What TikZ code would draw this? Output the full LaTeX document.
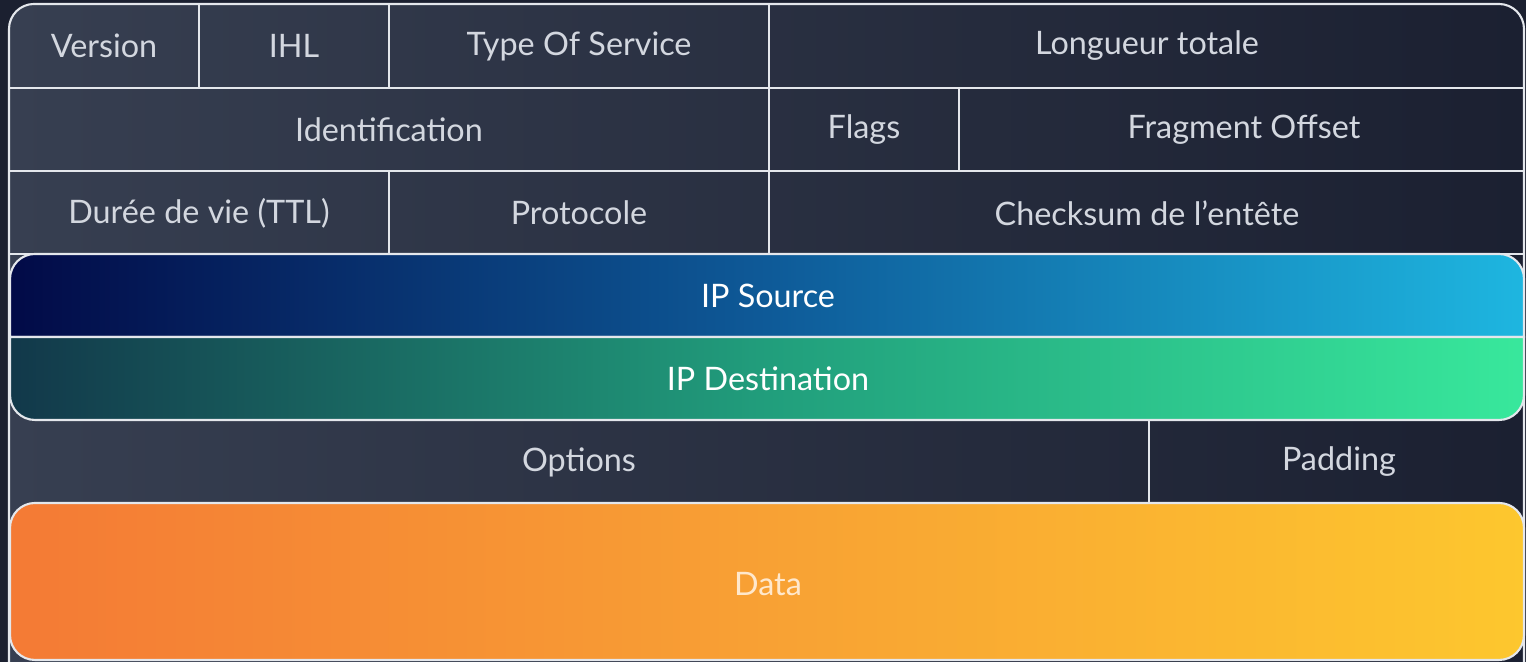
\documentclass[tikz,border=0pt]{standalone}
\usepackage{fontspec}
\setmainfont{Lato}
\usepackage{tikz}

\definecolor{bgdark}{HTML}{1B2030}
\definecolor{frameL}{HTML}{373F51}
\definecolor{frameR}{HTML}{1B2031}
\definecolor{gridline}{HTML}{E4E7EC}
\definecolor{fieldtext}{HTML}{D3D7DF}
\definecolor{srcL}{HTML}{020A47}
\definecolor{srcM}{HTML}{0E5A98}
\definecolor{srcR}{HTML}{1EB6E0}
\definecolor{dstL}{HTML}{12384A}
\definecolor{dstM}{HTML}{219E7C}
\definecolor{dstR}{HTML}{38E89C}
\definecolor{dataL}{HTML}{F47A35}
\definecolor{dataM}{HTML}{F8A134}
\definecolor{dataR}{HTML}{FDC72E}
\definecolor{datatext}{HTML}{FFE8CC}

\begin{document}
\begin{tikzpicture}[x=0.01cm, y=0.01cm,
    field/.style={text=fieldtext, font=\fontsize{9.2}{11}\selectfont},
    grid/.style={gridline, line width=0.6pt}]

    \useasboundingbox (0,0) rectangle (1526,662);
    \fill[bgdark] (0,0) rectangle (1526,662);
    \clip (0,0) rectangle (1526,662);

    % header frame
    \draw[grid, left color=frameL, right color=frameR] (9,-40) -- (9,633)
        arc[start angle=180, end angle=90, radius=0.25cm] -- (1499,658)
        arc[start angle=90, end angle=0, radius=0.25cm] -- (1524,-40) -- cycle;

    % rows
    \draw[grid] (9,574) -- (1524,574);
    \draw[grid] (9,491) -- (1524,491);
    \draw[grid] (9,408) -- (1524,408);

    % columns
    \draw[grid] (199,574) -- (199,658);
    \draw[grid] (389,574) -- (389,658);
    \draw[grid] (769,574) -- (769,658);
    \draw[grid] (769,491) -- (769,574);
    \draw[grid] (959,491) -- (959,574);
    \draw[grid] (389,408) -- (389,491);
    \draw[grid] (769,408) -- (769,491);
    \draw[grid] (1149,159) -- (1149,242);

    % addresses
    \draw[grid, left color=srcL, right color=srcR, middle color=srcM] (10,325) -- (10,383)
        arc[start angle=180, end angle=90, radius=0.25cm] -- (1499,408)
        arc[start angle=90, end angle=0, radius=0.25cm] -- (1524,325) -- cycle;
    \draw[grid, left color=dstL, right color=dstR, middle color=dstM] (10,325) -- (1524,325) -- (1524,267)
        arc[start angle=0, end angle=-90, radius=0.25cm] -- (35,242)
        arc[start angle=270, end angle=180, radius=0.25cm] -- cycle;

    % payload
    \draw[grid, rounded corners=0.25cm, left color=dataL, right color=dataR, middle color=dataM]
        (10,2) rectangle (1524,159);

    \node[field] (version) at (104,616) {Version};
    \node[field] (ihl) at (294,616) {IHL};
    \node[field] (tos) at (579,616) {Type Of Service};
    \node[field] (length) at (1147,616) {Longueur totale};
    \node[field] (ident) at (389,532) {Identification};
    \node[field] (flags) at (864,532) {Flags};
    \node[field] (offset) at (1244,532) {Fragment Offset};
    \node[field] (ttl) at (199,449) {Durée de vie (TTL)};
    \node[field] (proto) at (579,449) {Protocole};
    \node[field] (checksum) at (1147,449) {Checksum de l’entête};
    \node[field, text=white] (src) at (768,366) {IP Source};
    \node[field, text=white] (dst) at (768,283) {IP Destination};
    \node[field] (options) at (579,200) {Options};
    \node[field] (padding) at (1339,200) {Padding};
    \node[field, text=datatext] (data) at (768,78) {Data};

\end{tikzpicture}
\end{document}
